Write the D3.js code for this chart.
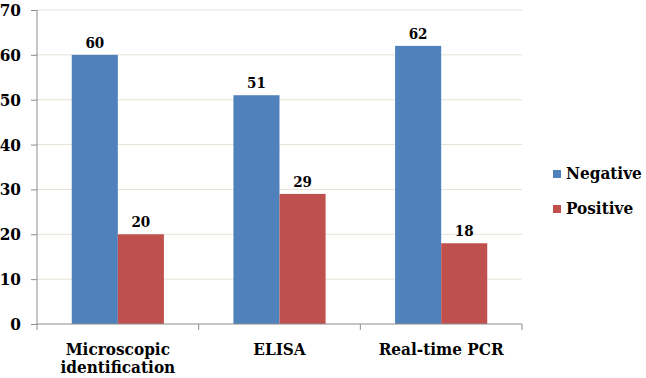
<!DOCTYPE html>
<html>
<head>
<meta charset="utf-8">
<script src="https://cdn.jsdelivr.net/npm/d3@7"></script>
<style>
  body { margin: 0; background: #fff; }
</style>
</head>
<body>
<svg id="chart" width="646" height="378"></svg>
<script>
const categories = [['Microscopic', 'identification'], ['ELISA'], ['Real-time PCR']];
const seriesNames = ['Negative', 'Positive'];
const negative = [60, 51, 62];
const positive = [20, 29, 18];
const yTicks = [0, 10, 20, 30, 40, 50, 60, 70];
const colors = ['#4f81bd', '#c0504d'];
const FONT = "'DejaVu Serif Condensed', 'DejaVu Serif', serif";

const svg = d3.select('svg#chart');
const margin = { top: 10, right: 124, bottom: 54, left: 37 };
const width = +svg.attr('width') - margin.left - margin.right;
const height = +svg.attr('height') - margin.top - margin.bottom;

const g = svg.append('g').attr('transform', `translate(${margin.left},${margin.top})`);

const x0 = d3.scaleBand().domain(d3.range(categories.length)).range([0, width]);
const x1 = d3.scaleBand().domain(d3.range(seriesNames.length)).range([0, x0.bandwidth() * 0.57]);
const groupOffset = x0.bandwidth() * (1 - 0.57) / 2;
const y = d3.scaleLinear().domain([0, 70]).range([height, 0]);

function serif(sel, size) {
  sel.style('font-family', FONT).style('font-stretch', 'condensed')
    .style('font-weight', 'bold').style('font-size', size + 'px').attr('fill', '#000');
}

// gridlines
g.selectAll('line.grid')
  .data(yTicks.slice(1))
  .enter().append('line')
  .attr('class', 'grid')
  .attr('x1', 0).attr('x2', width)
  .attr('y1', d => y(d)).attr('y2', d => y(d))
  .attr('stroke', '#e6e2d6').attr('stroke-width', 1);

const series = [negative, positive];
series.forEach((vals, si) => {
  g.selectAll(`rect.s${si}`)
    .data(vals)
    .enter().append('rect')
    .attr('class', `s${si}`)
    .attr('x', (d, i) => x0(i) + groupOffset + x1(si))
    .attr('y', d => y(d))
    .attr('width', x1.bandwidth())
    .attr('height', d => height - y(d))
    .attr('fill', colors[si]);

  g.selectAll(`text.v${si}`)
    .data(vals)
    .enter().append('text')
    .attr('class', `v${si}`)
    .attr('x', (d, i) => x0(i) + groupOffset + x1(si) + x1.bandwidth() / 2)
    .attr('y', d => y(d) - 7)
    .attr('text-anchor', 'middle')
    .call(serif, 15)
    .text(d => d);
});

// y axis
const yAxis = g.append('g')
  .call(d3.axisLeft(y).tickValues(yTicks).tickSize(6).tickPadding(10));
yAxis.selectAll('path, line').attr('stroke', '#8c8c8c');
yAxis.select('path').attr('d', `M0,${height}V0`);
yAxis.selectAll('text').call(serif, 17);

// x axis
const xAxis = g.append('g').attr('transform', `translate(0,${height})`);
xAxis.append('line').attr('x1', 0).attr('x2', width).attr('stroke', '#8c8c8c');
xAxis.selectAll('line.tick')
  .data(d3.range(categories.length + 1))
  .enter().append('line')
  .attr('class', 'tick')
  .attr('x1', d => d * x0.step()).attr('x2', d => d * x0.step())
  .attr('y1', 0).attr('y2', 6)
  .attr('stroke', '#8c8c8c');
categories.forEach((lines, i) => {
  const t = xAxis.append('text')
    .attr('x', x0(i) + x0.bandwidth() / 2)
    .attr('y', 31)
    .attr('text-anchor', 'middle')
    .call(serif, 17);
  lines.forEach((ln, li) => {
    t.append('tspan').attr('x', x0(i) + x0.bandwidth() / 2).attr('dy', li === 0 ? 0 : 18).text(ln);
  });
});

// legend
const legend = svg.append('g').attr('transform', 'translate(553,170)');
seriesNames.forEach((name, i) => {
  const row = legend.append('g').attr('transform', `translate(0,${i * 35})`);
  row.append('rect').attr('width', 8).attr('height', 8).attr('fill', colors[i]);
  row.append('text').attr('x', 13).attr('y', 9).call(serif, 17).text(name);
});
</script>
</body>
</html>
